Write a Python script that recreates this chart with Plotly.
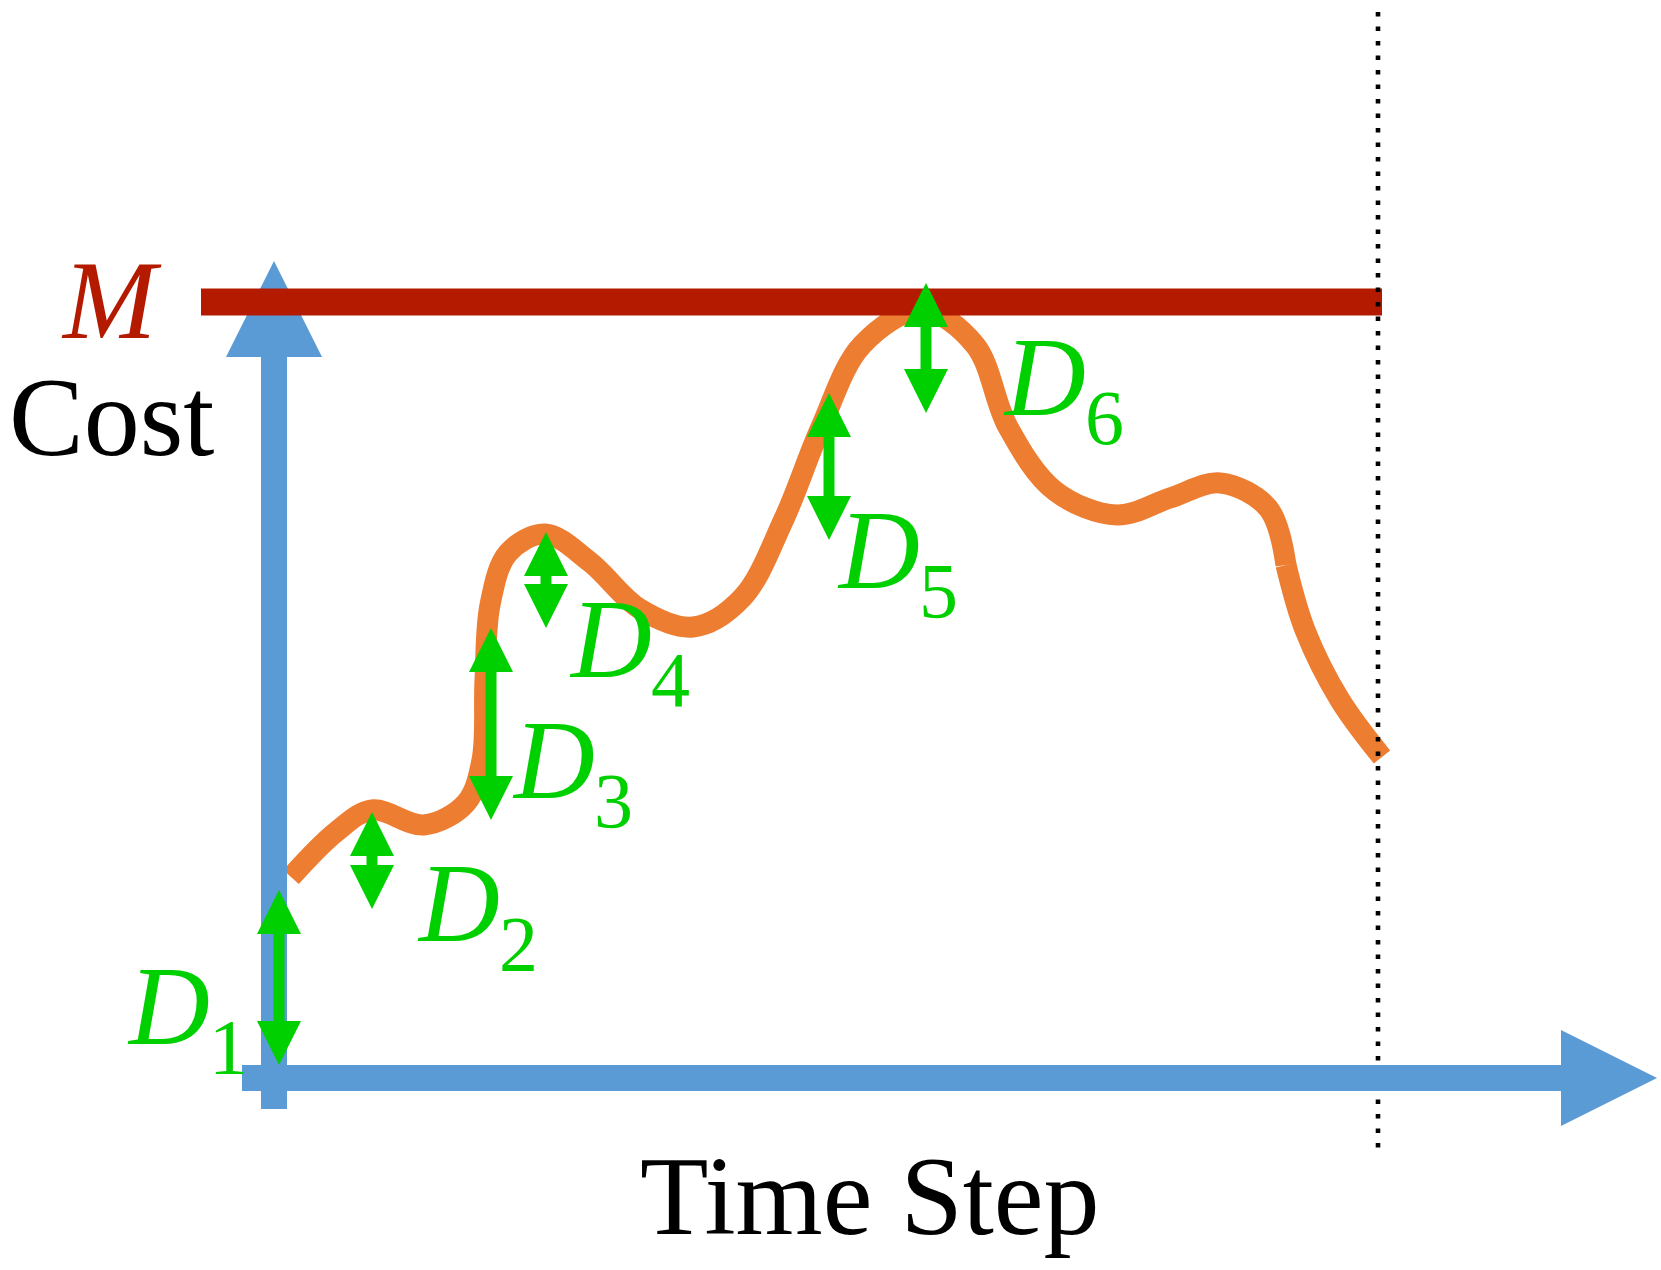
import plotly.graph_objects as go

# ---------------- data (time step / cost units) ----------------
# cost curve, first part (up to the kink after the last hump)
curve_time_a = [17, 62, 98, 150, 192, 208, 211, 216, 234, 271, 316, 366, 419, 468, 510, 547,
                588, 648, 701, 734, 781, 843, 896, 946, 994, 1012]
curve_cost_a = [201, 246, 268, 253, 275, 318, 398, 473, 525, 544, 516, 469, 451, 480, 559, 651,
                733, 768, 733, 651, 587, 563, 580, 595, 570, 513]
# cost curve, second part (final descent to the horizon)
curve_time_b = [1012, 1031, 1066, 1108]
curve_cost_b = [513, 448, 378, 321]

budget_M = 776          # cost limit M
horizon_T = 1104        # final time step (dotted line)

delta_labels = ["1", "2", "3", "4", "5", "6"]
delta_time = [5, 98, 217, 272, 555, 652]
delta_low = [13, 169, 258, 450, 538, 665]
delta_high = [188, 266, 450, 546, 685, 795]

axis_title_x = "Time Step"
axis_title_y = "Cost"
budget_label = "M"

# ---------------- styles / layout ----------------
BLUE = "#5B9BD5"
RED = "#B41A00"
ORANGE = "#ED7D31"
GREEN = "#00D000"
FONT = "Liberation Serif"

# pixel mapping: 1 data unit = 1 px, origin at axes crossing
X_RANGE = [-274, 1387]
Y_RANGE = [-192, 1078]

fig = go.Figure()

curve_line = dict(color=ORANGE, width=21, shape="spline", smoothing=1.0, simplify=False)
fig.add_trace(go.Scatter(x=curve_time_a, y=curve_cost_a, mode="lines", line=curve_line,
                         hoverinfo="skip", showlegend=False))
fig.add_trace(go.Scatter(x=curve_time_b, y=curve_cost_b, mode="lines", line=curve_line,
                         hoverinfo="skip", showlegend=False))

shapes = []


def tri(p1, p2, p3, color):
    return dict(type="path", xref="x", yref="y", layer="above",
                path=f"M {p1[0]},{p1[1]} L {p2[0]},{p2[1]} L {p3[0]},{p3[1]} Z",
                fillcolor=color, line=dict(width=0))


def seg(x0, y0, x1, y1, color, width, dash=None):
    ln = dict(color=color, width=width)
    if dash:
        ln["dash"] = dash
    return dict(type="line", xref="x", yref="y", layer="above",
                x0=x0, y0=y0, x1=x1, y1=y1, line=ln)


# vertical (cost) axis
AX_W = 26
AX_HEAD = 96
v_top = 817
shapes.append(seg(0, -31, 0, v_top - AX_HEAD, BLUE, AX_W))
shapes.append(tri((-AX_HEAD / 2, v_top - AX_HEAD), (AX_HEAD / 2, v_top - AX_HEAD), (0, v_top), BLUE))

# budget line M
shapes.append(seg(-73, budget_M, horizon_T + 4, budget_M, RED, 27))

# horizon dotted line
shapes.append(seg(horizon_T, 1066, horizon_T, -79, "black", 4.6, dash="4.6px,9.9px"))

# horizontal (time) axis
h_tip = 1383
shapes.append(seg(-32, 0, h_tip - AX_HEAD, 0, BLUE, AX_W))
shapes.append(tri((h_tip - AX_HEAD, -AX_HEAD / 2), (h_tip - AX_HEAD, AX_HEAD / 2), (h_tip, 0), BLUE))

# green double-headed arrows
HEAD_W = 44
HEAD_H = 44
SHAFT_W = 11
for t, lo, hi in zip(delta_time, delta_low, delta_high):
    if hi - lo > 2 * HEAD_H:
        shapes.append(seg(t, lo + HEAD_H, t, hi - HEAD_H, GREEN, SHAFT_W))
    shapes.append(tri((t - HEAD_W / 2, hi - HEAD_H), (t + HEAD_W / 2, hi - HEAD_H), (t, hi), GREEN))
    shapes.append(tri((t - HEAD_W / 2, lo + HEAD_H), (t + HEAD_W / 2, lo + HEAD_H), (t, lo), GREEN))

annotations = []
ASC = 0.3375  # offset from bbox middle to baseline, in em


def label(text, x_px, baseline_px, size, color, xanchor="left"):
    annotations.append(dict(
        text=text, x=x_px - 274, y=1078 - (baseline_px - ASC * size),
        xref="x", yref="y", xanchor=xanchor, yanchor="middle", showarrow=False,
        borderpad=0, font=dict(family=FONT, size=size, color=color)))


# D labels: glyph left edge and baseline, in px
D_SIZE = 112
SUB_SIZE = 78
d_label_pos = [(125, 1044), (415, 941), (510, 798), (567, 677), (835, 588), (1001, 415)]
for name, (lx, by) in zip(delta_labels, d_label_pos):
    label("<i>D</i>", lx + 1, by, D_SIZE, GREEN)
    label(name, lx + 83, by + 28.5, SUB_SIZE, GREEN)

label("<i>" + budget_label + "</i>", 60, 338, D_SIZE, RED)
label(axis_title_y, 8, 455, 112, "black")
label(axis_title_x, 870, 1234, 112, "black", xanchor="center")

fig.update_layout(
    width=1661, height=1270,
    margin=dict(l=0, r=0, t=0, b=0, pad=0),
    paper_bgcolor="white", plot_bgcolor="white",
    xaxis=dict(range=X_RANGE, visible=False, fixedrange=True),
    yaxis=dict(range=Y_RANGE, visible=False, fixedrange=True),
    shapes=shapes, annotations=annotations, showlegend=False,
)

fig.write_html("out.html", config={"displayModeBar": False},
               post_script="document.body.style.margin='0px';")
